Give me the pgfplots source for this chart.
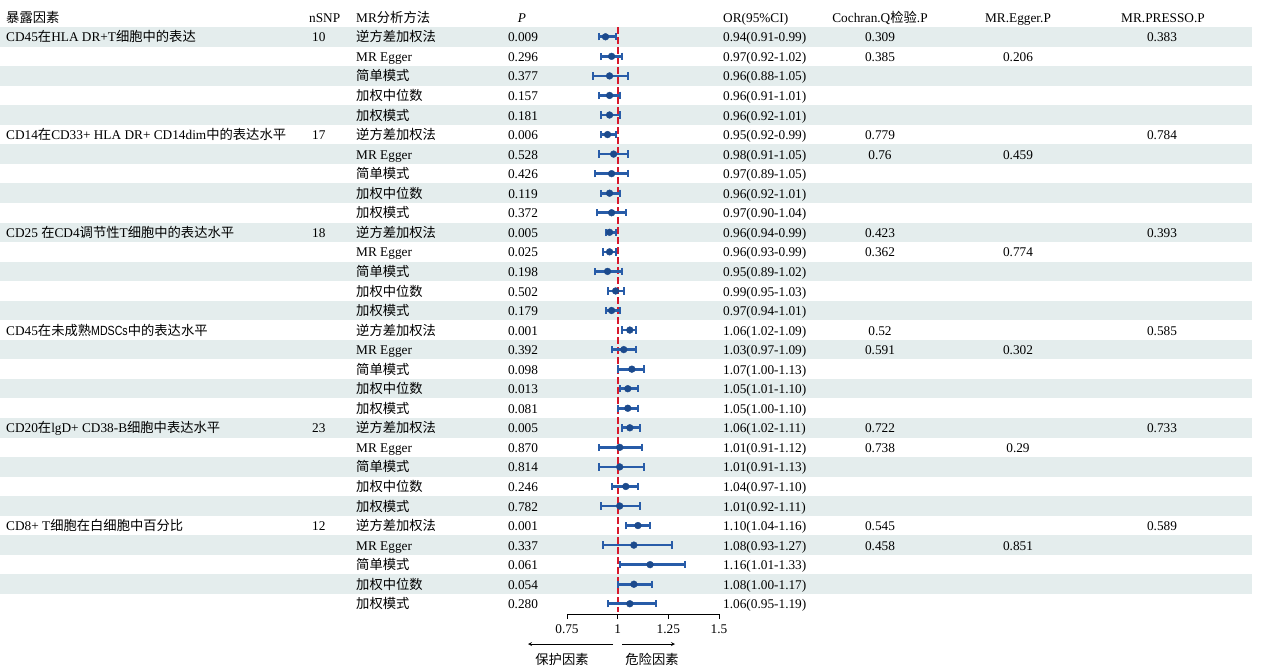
\documentclass[border=0pt]{standalone}
\usepackage{fontspec}
\setmainfont{Liberation Serif}
\newfontfamily\cjk{Noto Sans CJK SC}
\newfontfamily\narrowsans[FakeStretch=0.8]{Liberation Sans}
\usepackage{pgfplots}
\usepackage{pgfplotstable}
\pgfplotsset{compat=1.18}

\definecolor{band}{RGB}{228,237,237}
\definecolor{ciblue}{RGB}{40,92,168}
\definecolor{dotblue}{RGB}{28,74,140}
\definecolor{nullred}{RGB}{215,25,45}

\newcommand\zh[1]{{\cjk #1}}

% odds ratios with 95% CI, one line per table row
\pgfplotstableread{
row or lo hi
1 0.94 0.91 0.99
2 0.97 0.92 1.02
3 0.96 0.88 1.05
4 0.96 0.91 1.01
5 0.96 0.92 1.01
6 0.95 0.92 0.99
7 0.98 0.91 1.05
8 0.97 0.89 1.05
9 0.96 0.92 1.01
10 0.97 0.90 1.04
11 0.96 0.94 0.99
12 0.96 0.93 0.99
13 0.95 0.89 1.02
14 0.99 0.95 1.03
15 0.97 0.94 1.01
16 1.06 1.02 1.09
17 1.03 0.97 1.09
18 1.07 1.00 1.13
19 1.05 1.01 1.10
20 1.05 1.00 1.10
21 1.06 1.02 1.11
22 1.01 0.91 1.12
23 1.01 0.91 1.13
24 1.04 0.97 1.10
25 1.01 0.92 1.11
26 1.10 1.04 1.16
27 1.08 0.93 1.27
28 1.16 1.01 1.33
29 1.08 1.00 1.17
30 1.06 0.95 1.19
}\ordata

\tikzset{txt/.style={font=\fontsize{13.3}{16}\selectfont, inner sep=0pt}}

% one table row: index, exposure, nSNP, method, P, OR(CI), Q, Egger, PRESSO
\newcommand\trow[9]{%
  \node[txt,anchor=base west] at (axis cs:6,{-#1-0.26}) {#2};
  \node[txt,anchor=base west] at (axis cs:312,{-#1-0.26}) {#3};
  \node[txt,anchor=base west] at (axis cs:356,{-#1-0.26}) {#4};
  \node[txt,anchor=base] at (axis cs:523,{-#1-0.26}) {#5};
  \node[txt,anchor=base west] at (axis cs:723,{-#1-0.26}) {#6};
  \node[txt,anchor=base] at (axis cs:880,{-#1-0.26}) {#7};
  \node[txt,anchor=base] at (axis cs:1018,{-#1-0.26}) {#8};
  \node[txt,anchor=base] at (axis cs:1162,{-#1-0.26}) {#9};
}

\begin{document}
\begin{tikzpicture}
% table layer: x in pixels, y in rows (row i at y=-i)
\begin{axis}[
  at={(0pt,0pt)}, anchor=south west,
  width=1261pt, height=665pt, scale only axis,
  xmin=0, xmax=1261, ymin=-33.134, ymax=0.8824,
  hide axis, clip=false,
]
\pgfplotsinvokeforeach{1,3,5,7,9,11,13,15,17,19,21,23,25,27,29}{
  \fill[band] (axis cs:0,{-#1+0.5}) rectangle (axis cs:1252,{-#1-0.5});
}
% header
\node[txt,anchor=base west] at (axis cs:6,-0.26) {\zh{暴露因素}};
\node[txt,anchor=base west] at (axis cs:309,-0.26) {nSNP};
\node[txt,anchor=base west] at (axis cs:356,-0.26) {MR\zh{分析方法}};
\node[txt,anchor=base] at (axis cs:522,-0.26) {\itshape P};
\node[txt,anchor=base west] at (axis cs:723,-0.26) {OR(95\%CI)};
\node[txt,anchor=base] at (axis cs:880,-0.26) {Cochran.Q\zh{检验}.P};
\node[txt,anchor=base] at (axis cs:1018,-0.26) {MR.Egger.P};
\node[txt,anchor=base] at (axis cs:1163,-0.26) {MR.PRESSO.P};

\trow{1}{CD45\zh{在}HLA DR+T\zh{细胞中的表达}}{10}{\zh{逆方差加权法}}{0.009}{0.94(0.91-0.99)}{0.309}{}{0.383}
\trow{2}{}{}{MR Egger}{0.296}{0.97(0.92-1.02)}{0.385}{0.206}{}
\trow{3}{}{}{\zh{简单模式}}{0.377}{0.96(0.88-1.05)}{}{}{}
\trow{4}{}{}{\zh{加权中位数}}{0.157}{0.96(0.91-1.01)}{}{}{}
\trow{5}{}{}{\zh{加权模式}}{0.181}{0.96(0.92-1.01)}{}{}{}
\trow{6}{CD14\zh{在}CD33+ HLA DR+ CD14dim\zh{中的表达水平}}{17}{\zh{逆方差加权法}}{0.006}{0.95(0.92-0.99)}{0.779}{}{0.784}
\trow{7}{}{}{MR Egger}{0.528}{0.98(0.91-1.05)}{0.76}{0.459}{}
\trow{8}{}{}{\zh{简单模式}}{0.426}{0.97(0.89-1.05)}{}{}{}
\trow{9}{}{}{\zh{加权中位数}}{0.119}{0.96(0.92-1.01)}{}{}{}
\trow{10}{}{}{\zh{加权模式}}{0.372}{0.97(0.90-1.04)}{}{}{}
\trow{11}{CD25 \zh{在}CD4\zh{调节性}T\zh{细胞中的表达水平}}{18}{\zh{逆方差加权法}}{0.005}{0.96(0.94-0.99)}{0.423}{}{0.393}
\trow{12}{}{}{MR Egger}{0.025}{0.96(0.93-0.99)}{0.362}{0.774}{}
\trow{13}{}{}{\zh{简单模式}}{0.198}{0.95(0.89-1.02)}{}{}{}
\trow{14}{}{}{\zh{加权中位数}}{0.502}{0.99(0.95-1.03)}{}{}{}
\trow{15}{}{}{\zh{加权模式}}{0.179}{0.97(0.94-1.01)}{}{}{}
\trow{16}{CD45\zh{在未成熟}{\narrowsans MDSCs}\zh{中的表达水平}}{}{\zh{逆方差加权法}}{0.001}{1.06(1.02-1.09)}{0.52}{}{0.585}
\trow{17}{}{}{MR Egger}{0.392}{1.03(0.97-1.09)}{0.591}{0.302}{}
\trow{18}{}{}{\zh{简单模式}}{0.098}{1.07(1.00-1.13)}{}{}{}
\trow{19}{}{}{\zh{加权中位数}}{0.013}{1.05(1.01-1.10)}{}{}{}
\trow{20}{}{}{\zh{加权模式}}{0.081}{1.05(1.00-1.10)}{}{}{}
\trow{21}{CD20\zh{在}lgD+ CD38-B\zh{细胞中表达水平}}{23}{\zh{逆方差加权法}}{0.005}{1.06(1.02-1.11)}{0.722}{}{0.733}
\trow{22}{}{}{MR Egger}{0.870}{1.01(0.91-1.12)}{0.738}{0.29}{}
\trow{23}{}{}{\zh{简单模式}}{0.814}{1.01(0.91-1.13)}{}{}{}
\trow{24}{}{}{\zh{加权中位数}}{0.246}{1.04(0.97-1.10)}{}{}{}
\trow{25}{}{}{\zh{加权模式}}{0.782}{1.01(0.92-1.11)}{}{}{}
\trow{26}{CD8+ T\zh{细胞在白细胞中百分比}}{12}{\zh{逆方差加权法}}{0.001}{1.10(1.04-1.16)}{0.545}{}{0.589}
\trow{27}{}{}{MR Egger}{0.337}{1.08(0.93-1.27)}{0.458}{0.851}{}
\trow{28}{}{}{\zh{简单模式}}{0.061}{1.16(1.01-1.33)}{}{}{}
\trow{29}{}{}{\zh{加权中位数}}{0.054}{1.08(1.00-1.17)}{}{}{}
\trow{30}{}{}{\zh{加权模式}}{0.280}{1.06(0.95-1.19)}{}{}{}

% direction arrows under the forest scale
\draw[-stealth, line width=0.8pt] (axis cs:613,-32.06) -- (axis cs:528,-32.06);
\draw[-stealth, line width=0.8pt] (axis cs:622,-32.06) -- (axis cs:675,-32.06);
\node[txt,anchor=center] at (axis cs:562,-32.83) {\zh{保护因素}};
\node[txt,anchor=center] at (axis cs:652,-32.83) {\zh{危险因素}};
\end{axis}

% forest plot: x is the odds ratio
\begin{axis}[
  at={(567pt,665pt)}, anchor=north west,
  width=152pt, height=614pt, scale only axis,
  xmin=0.75, xmax=1.5, ymin=-30.524, ymax=0.8824,
  axis x line*=bottom, axis y line=none,
  xtick={0.75,1,1.25,1.5}, xticklabels={0.75,1,1.25,1.5},
  tick align=outside, major tick length=5pt,
  every tick/.style={black, line width=0.8pt},
  axis line style={black, line width=0.8pt},
  ticklabel style={font=\fontsize{13.3}{16}\selectfont, yshift=-2.5pt},
  /pgf/number format/assume math mode=true,
  clip=false,
]
% reference line at OR = 1
\addplot[nullred, line width=2pt, dash pattern=on 7pt off 3pt, mark=none]
  coordinates {(1,-0.5) (1,-30.42)};
% confidence intervals with end caps
\addplot[draw=none, mark=none,
  error bars/.cd, x dir=both, x explicit,
  error mark=|,
  error bar style={line width=2.7pt, color=ciblue, solid},
  error mark options={line width=2pt, color=ciblue, mark size=3.7pt}]
  table[x=or, y expr=-\thisrow{row},
        x error plus expr=\thisrow{hi}-\thisrow{or},
        x error minus expr=\thisrow{or}-\thisrow{lo}] {\ordata};
% point estimates
\addplot[only marks, mark=*, mark size=3.4pt,
  mark options={fill=dotblue, draw=dotblue, solid}]
  table[x=or, y expr=-\thisrow{row}] {\ordata};
\end{axis}
\pgfresetboundingbox
\path (0,0) rectangle (1261pt,665pt);
\end{tikzpicture}
\end{document}
